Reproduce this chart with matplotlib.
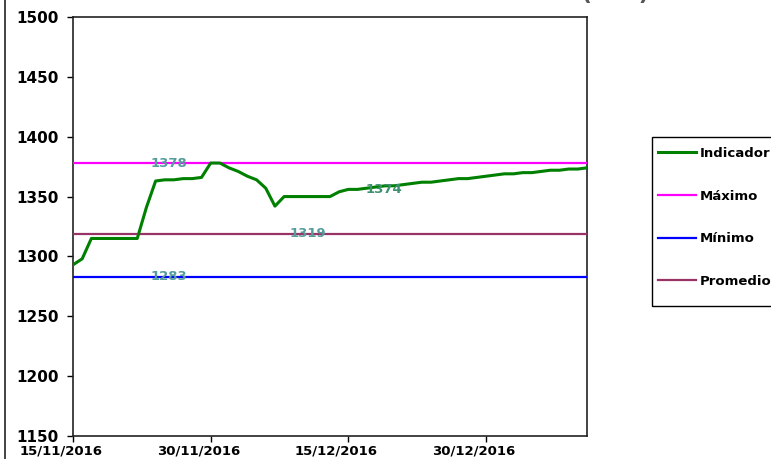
import matplotlib
matplotlib.use('Agg')
import matplotlib.pyplot as plt
import matplotlib.dates as mdates
import matplotlib.transforms as mtransforms
from matplotlib.patches import Rectangle
import pandas as pd

# daily indicator values from 15/11/2016
start_date = '2016-11-15'
indicador = [1293, 1298, 1315, 1315, 1315, 1315, 1315, 1315, 1341, 1363,
             1364, 1364, 1365, 1365, 1366, 1378, 1378, 1374, 1371, 1367,
             1364, 1357, 1342, 1350, 1350, 1350, 1350, 1350, 1350, 1354,
             1356, 1356, 1357, 1358, 1359, 1359, 1360, 1361, 1362, 1362,
             1363, 1364, 1365, 1365, 1366, 1367, 1368, 1369, 1369, 1370,
             1370, 1371, 1372, 1372, 1373, 1373, 1374]
maximo = 1378
minimo = 1283
promedio = 1319
ultimo = 1374
tick_dates = ['2016-11-15', '2016-11-30', '2016-12-15', '2016-12-30']
x_end = '2017-01-10'
series_names = ['Indicador', 'Máximo', 'Mínimo', 'Promedio']

fechas = pd.date_range(start_date, periods=len(indicador))

fig = plt.figure(figsize=(7.71, 4.59), dpi=100)
fig.patch.set_facecolor('white')
ax = fig.add_axes([73/771, 1-436/459, (587-73)/771, (436-17)/459])

l1, = ax.plot(fechas, indicador, color='#008000', lw=2.2, zorder=4)
l2 = ax.axhline(maximo, color='#ff00ff', lw=1.6, zorder=3)
l3 = ax.axhline(minimo, color='#0000ff', lw=1.6, zorder=3)
l4 = ax.axhline(promedio, color='#993366', lw=1.6, zorder=3)

lbl_col = '#559c9c'
ax.text(pd.Timestamp('2016-11-25 12:00'), maximo, str(maximo), color=lbl_col,
        fontsize=9.5, fontweight='bold', ha='center', va='center', zorder=5)
ax.text(pd.Timestamp('2016-11-25 12:00'), minimo, str(minimo), color=lbl_col,
        fontsize=9.5, fontweight='bold', ha='center', va='center', zorder=5)
ax.text(pd.Timestamp('2016-12-10 14:00'), promedio, str(promedio), color=lbl_col,
        fontsize=9.5, fontweight='bold', ha='center', va='center', zorder=5)
ax.text(pd.Timestamp('2016-12-18 22:00'), 1355.5, str(ultimo), color='#3f9070',
        fontsize=9.5, fontweight='bold', ha='center', va='center', zorder=5)

ax.set_xlim(pd.Timestamp(start_date), pd.Timestamp(x_end))
ax.set_ylim(1150, 1500)
ax.set_yticks(range(1150, 1501, 50))
ax.set_xticks([pd.Timestamp(d) for d in tick_dates])
ax.xaxis.set_major_formatter(mdates.DateFormatter('%d/%m/%Y'))
ax.tick_params(axis='y', direction='out', length=4.3, width=1, pad=6, labelsize=11)
ax.tick_params(axis='x', direction='out', length=4, width=1, pad=2, labelsize=9.5)
shift = mtransforms.ScaledTranslation(-12/100, 0, fig.dpi_scale_trans)
for lab in ax.get_xticklabels():
    lab.set_fontweight('bold')
    lab.set_transform(lab.get_transform() + shift)
for lab in ax.get_yticklabels():
    lab.set_fontweight('bold')
for sp in ax.spines.values():
    sp.set_linewidth(1.2)
    sp.set_color('#222222')

# chart area frame (mostly cropped)
fig.patches.append(Rectangle((5/771, -0.2), 2, 2, transform=fig.transFigure,
                             fill=False, edgecolor='#222222', lw=1.2))

# title, cropped at top edge
fig.text(358/771, 1.0, 'Evolución del Indicador Últimos 2 Meses (CLP)',
         ha='center', va='baseline', fontsize=16, fontweight='bold', color='#555555')

# legend box, cut by the right edge
fig.patches.append(Rectangle((652/771, 1 - 306/459), 0.3, (306-137)/459,
                             transform=fig.transFigure, fill=False,
                             edgecolor='black', lw=1.0, zorder=5))
leg = fig.legend([l1, l2, l3, l4], series_names, loc='upper left',
                 bbox_to_anchor=(652/771, 1 - 141/459), borderaxespad=0,
                 frameon=False, prop={'size': 9.5, 'weight': 'bold'},
                 labelspacing=2.25, handlelength=2.9, handletextpad=0.25,
                 borderpad=0.45)

fig.savefig('out.png', dpi=100)
